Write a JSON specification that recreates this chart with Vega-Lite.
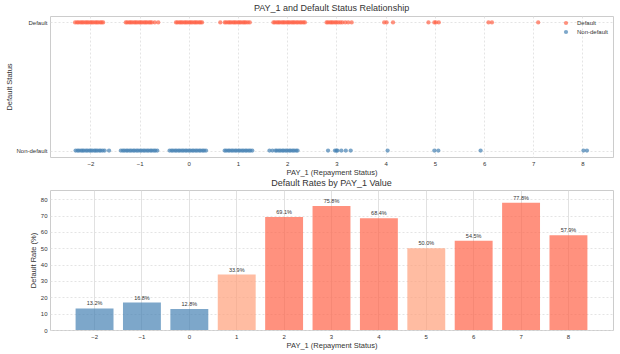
{
  "$schema": "https://vega.github.io/schema/vega-lite/v6.json",
  "background": "white",
  "padding": {"left": 5, "top": 3, "right": 7, "bottom": 2},
  "bounds": "flush",
  "spacing": 33,
  "resolve": {"scale": {"color": "independent"}, "legend": {"color": "independent"}},
  "config": {
    "font": "Liberation Sans",
    "view": {"stroke": "#cccccc", "strokeWidth": 1},
    "axis": {
      "labelFont": "Liberation Sans", "labelFontSize": 6, "labelColor": "#333333",
      "titleFont": "Liberation Sans", "titleFontSize": 7.5, "titleFontWeight": "normal", "titleColor": "#333333",
      "domain": false, "ticks": false, "labelPadding": 3, "titlePadding": 3,
      "gridColor": "#dddddd", "gridWidth": 0.8
    },
    "title": {"font": "Liberation Sans", "fontSize": 9, "fontWeight": "normal", "color": "#333333", "offset": 4},
    "legend": {"labelFont": "Liberation Sans", "labelFontSize": 6, "labelColor": "#333333"}
  },
  "vconcat": [
    {
      "width": 563,
      "height": 141,
      "title": {"text": "PAY_1 and Default Status Relationship", "offset": 3},
      "data": {"values": [
        {"x": -2.31, "d": 1}, {"x": -2.27, "d": 1}, {"x": -2.24, "d": 1}, {"x": -2.2, "d": 1}, {"x": -2.17, "d": 1}, {"x": -2.14, "d": 1}, {"x": -2.1, "d": 1}, {"x": -2.07, "d": 1}, {"x": -2.04, "d": 1}, {"x": -2.0, "d": 1}, {"x": -1.97, "d": 1}, {"x": -1.94, "d": 1}, {"x": -1.9, "d": 1}, {"x": -1.87, "d": 1}, {"x": -1.84, "d": 1}, {"x": -1.8, "d": 1}, {"x": -1.77, "d": 1}, {"x": -1.74, "d": 1},
        {"x": -1.28, "d": 1}, {"x": -1.25, "d": 1}, {"x": -1.21, "d": 1}, {"x": -1.18, "d": 1}, {"x": -1.15, "d": 1}, {"x": -1.11, "d": 1}, {"x": -1.08, "d": 1}, {"x": -1.05, "d": 1}, {"x": -1.01, "d": 1}, {"x": -0.98, "d": 1}, {"x": -0.95, "d": 1}, {"x": -0.91, "d": 1}, {"x": -0.88, "d": 1}, {"x": -0.85, "d": 1}, {"x": -0.81, "d": 1}, {"x": -0.78, "d": 1}, {"x": -0.75, "d": 1}, {"x": -0.69, "d": 1}, {"x": -0.62, "d": 1},
        {"x": -0.26, "d": 1}, {"x": -0.23, "d": 1}, {"x": -0.19, "d": 1}, {"x": -0.16, "d": 1}, {"x": -0.13, "d": 1}, {"x": -0.09, "d": 1}, {"x": -0.06, "d": 1}, {"x": -0.03, "d": 1}, {"x": 0.01, "d": 1}, {"x": 0.04, "d": 1}, {"x": 0.07, "d": 1}, {"x": 0.11, "d": 1}, {"x": 0.14, "d": 1}, {"x": 0.17, "d": 1}, {"x": 0.21, "d": 1}, {"x": 0.24, "d": 1}, {"x": 0.27, "d": 1},
        {"x": 0.64, "d": 1}, {"x": 0.73, "d": 1}, {"x": 0.76, "d": 1}, {"x": 0.8, "d": 1}, {"x": 0.83, "d": 1}, {"x": 0.86, "d": 1}, {"x": 0.9, "d": 1}, {"x": 0.93, "d": 1}, {"x": 0.96, "d": 1}, {"x": 1.0, "d": 1}, {"x": 1.03, "d": 1}, {"x": 1.06, "d": 1}, {"x": 1.1, "d": 1}, {"x": 1.13, "d": 1}, {"x": 1.16, "d": 1}, {"x": 1.2, "d": 1}, {"x": 1.24, "d": 1},
        {"x": 1.72, "d": 1}, {"x": 1.75, "d": 1}, {"x": 1.79, "d": 1}, {"x": 1.82, "d": 1}, {"x": 1.85, "d": 1}, {"x": 1.89, "d": 1}, {"x": 1.92, "d": 1}, {"x": 1.95, "d": 1}, {"x": 1.99, "d": 1}, {"x": 2.02, "d": 1}, {"x": 2.05, "d": 1}, {"x": 2.09, "d": 1}, {"x": 2.12, "d": 1}, {"x": 2.15, "d": 1}, {"x": 2.19, "d": 1}, {"x": 2.22, "d": 1}, {"x": 2.26, "d": 1}, {"x": 2.29, "d": 1}, {"x": 2.33, "d": 1}, {"x": 2.36, "d": 1},
        {"x": 2.8, "d": 1}, {"x": 2.83, "d": 1}, {"x": 2.87, "d": 1}, {"x": 2.9, "d": 1}, {"x": 2.93, "d": 1}, {"x": 2.97, "d": 1}, {"x": 3.0, "d": 1}, {"x": 3.04, "d": 1}, {"x": 3.08, "d": 1}, {"x": 3.12, "d": 1}, {"x": 3.18, "d": 1}, {"x": 3.24, "d": 1}, {"x": 3.31, "d": 1},
        {"x": 3.97, "d": 1}, {"x": 4.02, "d": 1}, {"x": 4.15, "d": 1},
        {"x": 4.87, "d": 1}, {"x": 4.99, "d": 1}, {"x": 5.02, "d": 1}, {"x": 5.08, "d": 1},
        {"x": 6.09, "d": 1}, {"x": 6.16, "d": 1},
        {"x": 7.1, "d": 1},
        {"x": -2.3, "d": 0}, {"x": -2.26, "d": 0}, {"x": -2.23, "d": 0}, {"x": -2.19, "d": 0}, {"x": -2.16, "d": 0}, {"x": -2.13, "d": 0}, {"x": -2.09, "d": 0}, {"x": -2.06, "d": 0}, {"x": -2.02, "d": 0}, {"x": -1.99, "d": 0}, {"x": -1.96, "d": 0}, {"x": -1.92, "d": 0}, {"x": -1.89, "d": 0}, {"x": -1.86, "d": 0}, {"x": -1.82, "d": 0}, {"x": -1.79, "d": 0}, {"x": -1.75, "d": 0}, {"x": -1.71, "d": 0}, {"x": -1.62, "d": 0},
        {"x": -1.38, "d": 0}, {"x": -1.34, "d": 0}, {"x": -1.31, "d": 0}, {"x": -1.27, "d": 0}, {"x": -1.24, "d": 0}, {"x": -1.2, "d": 0}, {"x": -1.17, "d": 0}, {"x": -1.13, "d": 0}, {"x": -1.1, "d": 0}, {"x": -1.06, "d": 0}, {"x": -1.03, "d": 0}, {"x": -0.99, "d": 0}, {"x": -0.96, "d": 0}, {"x": -0.92, "d": 0}, {"x": -0.89, "d": 0}, {"x": -0.85, "d": 0}, {"x": -0.82, "d": 0}, {"x": -0.78, "d": 0}, {"x": -0.75, "d": 0}, {"x": -0.71, "d": 0}, {"x": -0.68, "d": 0}, {"x": -0.64, "d": 0},
        {"x": -0.39, "d": 0}, {"x": -0.35, "d": 0}, {"x": -0.32, "d": 0}, {"x": -0.28, "d": 0}, {"x": -0.25, "d": 0}, {"x": -0.21, "d": 0}, {"x": -0.18, "d": 0}, {"x": -0.14, "d": 0}, {"x": -0.11, "d": 0}, {"x": -0.07, "d": 0}, {"x": -0.04, "d": 0}, {"x": 0.0, "d": 0}, {"x": 0.03, "d": 0}, {"x": 0.07, "d": 0}, {"x": 0.1, "d": 0}, {"x": 0.14, "d": 0}, {"x": 0.17, "d": 0}, {"x": 0.21, "d": 0}, {"x": 0.24, "d": 0}, {"x": 0.28, "d": 0}, {"x": 0.31, "d": 0}, {"x": 0.35, "d": 0},
        {"x": 0.73, "d": 0}, {"x": 0.76, "d": 0}, {"x": 0.8, "d": 0}, {"x": 0.83, "d": 0}, {"x": 0.87, "d": 0}, {"x": 0.9, "d": 0}, {"x": 0.94, "d": 0}, {"x": 0.97, "d": 0}, {"x": 1.01, "d": 0}, {"x": 1.04, "d": 0}, {"x": 1.08, "d": 0}, {"x": 1.11, "d": 0}, {"x": 1.15, "d": 0}, {"x": 1.18, "d": 0}, {"x": 1.22, "d": 0}, {"x": 1.25, "d": 0}, {"x": 1.29, "d": 0},
        {"x": 1.64, "d": 0}, {"x": 1.7, "d": 0}, {"x": 1.76, "d": 0}, {"x": 1.79, "d": 0}, {"x": 1.83, "d": 0}, {"x": 1.86, "d": 0}, {"x": 1.9, "d": 0}, {"x": 1.93, "d": 0}, {"x": 1.97, "d": 0}, {"x": 2.0, "d": 0}, {"x": 2.04, "d": 0}, {"x": 2.07, "d": 0}, {"x": 2.11, "d": 0}, {"x": 2.14, "d": 0}, {"x": 2.18, "d": 0}, {"x": 2.21, "d": 0},
        {"x": 2.83, "d": 0}, {"x": 2.97, "d": 0}, {"x": 3.0, "d": 0}, {"x": 3.02, "d": 0}, {"x": 3.1, "d": 0}, {"x": 3.19, "d": 0}, {"x": 3.29, "d": 0},
        {"x": 4.04, "d": 0},
        {"x": 4.99, "d": 0}, {"x": 5.07, "d": 0},
        {"x": 5.93, "d": 0},
        {"x": 8.02, "d": 0}, {"x": 8.09, "d": 0}
      ]},
      "mark": {"type": "circle", "size": 18, "opacity": 0.7},
      "encoding": {
        "x": {
          "field": "x", "type": "quantitative",
          "scale": {"domain": [-2.82, 8.62], "nice": false, "zero": false},
          "axis": {"values": [-2, -1, 0, 1, 2, 3, 4, 5, 6, 7, 8], "title": "PAY_1 (Repayment Status)", "gridDash": [2, 2], "labelExpr": "replace(datum.label, '-', '−')", "titlePadding": 2}
        },
        "y": {
          "field": "d", "type": "quantitative",
          "scale": {"domain": [-0.05, 1.05], "nice": false, "zero": false},
          "axis": {"values": [0, 1], "labelExpr": "datum.value == 1 ? 'Default' : 'Non-default'", "title": "Default Status", "gridDash": [2, 2], "titlePadding": 2}
        },
        "color": {
          "field": "d", "type": "nominal",
          "scale": {"domain": [1, 0], "range": ["tomato", "steelblue"]},
          "legend": {"title": null, "orient": "top-right", "offset": 4, "padding": 0, "symbolSize": 18, "symbolOpacity": 0.7, "rowPadding": 3, "labelOffset": 8, "labelExpr": "datum.value == 1 ? 'Default' : 'Non-default'"}
        }
      }
    },
    {
      "width": 563,
      "height": 140,
      "title": {"text": "Default Rates by PAY_1 Value", "offset": 2},
      "data": {"values": [
        {"pay": -2, "rate": 13.2, "label": "13.2%", "risk": "low"},
        {"pay": -1, "rate": 16.8, "label": "16.8%", "risk": "low"},
        {"pay": 0, "rate": 12.8, "label": "12.8%", "risk": "low"},
        {"pay": 1, "rate": 33.9, "label": "33.9%", "risk": "mid"},
        {"pay": 2, "rate": 69.1, "label": "69.1%", "risk": "high"},
        {"pay": 3, "rate": 75.8, "label": "75.8%", "risk": "high"},
        {"pay": 4, "rate": 68.4, "label": "68.4%", "risk": "high"},
        {"pay": 5, "rate": 50.0, "label": "50.0%", "risk": "mid"},
        {"pay": 6, "rate": 54.5, "label": "54.5%", "risk": "high"},
        {"pay": 7, "rate": 77.8, "label": "77.8%", "risk": "high"},
        {"pay": 8, "rate": 57.9, "label": "57.9%", "risk": "high"}
      ]},
      "encoding": {
        "x": {
          "field": "pay", "type": "ordinal",
          "scale": {"paddingInner": 0.2, "paddingOuter": 0.54},
          "axis": {"title": "PAY_1 (Repayment Status)", "labelAngle": 0, "bandPosition": 0.5, "grid": true, "gridColor": "#d9d9d9", "labelExpr": "replace(datum.label, '-', '−')", "titlePadding": 2}
        },
        "y": {
          "field": "rate", "type": "quantitative",
          "scale": {"domain": [0, 85.6], "nice": false},
          "axis": {"values": [0, 10, 20, 30, 40, 50, 60, 70, 80], "title": "Default Rate (%)", "gridDash": [2, 2]}
        }
      },
      "layer": [
        {
          "mark": {"type": "bar", "opacity": 0.7},
          "encoding": {
            "color": {"field": "risk", "type": "nominal", "scale": {"domain": ["low", "mid", "high"], "range": ["steelblue", "lightsalmon", "tomato"]}, "legend": null}
          }
        },
        {
          "mark": {"type": "text", "baseline": "bottom", "dy": -2, "fontSize": 5.5, "color": "#333333"},
          "encoding": {"text": {"field": "label"}}
        }
      ]
    }
  ]
}
